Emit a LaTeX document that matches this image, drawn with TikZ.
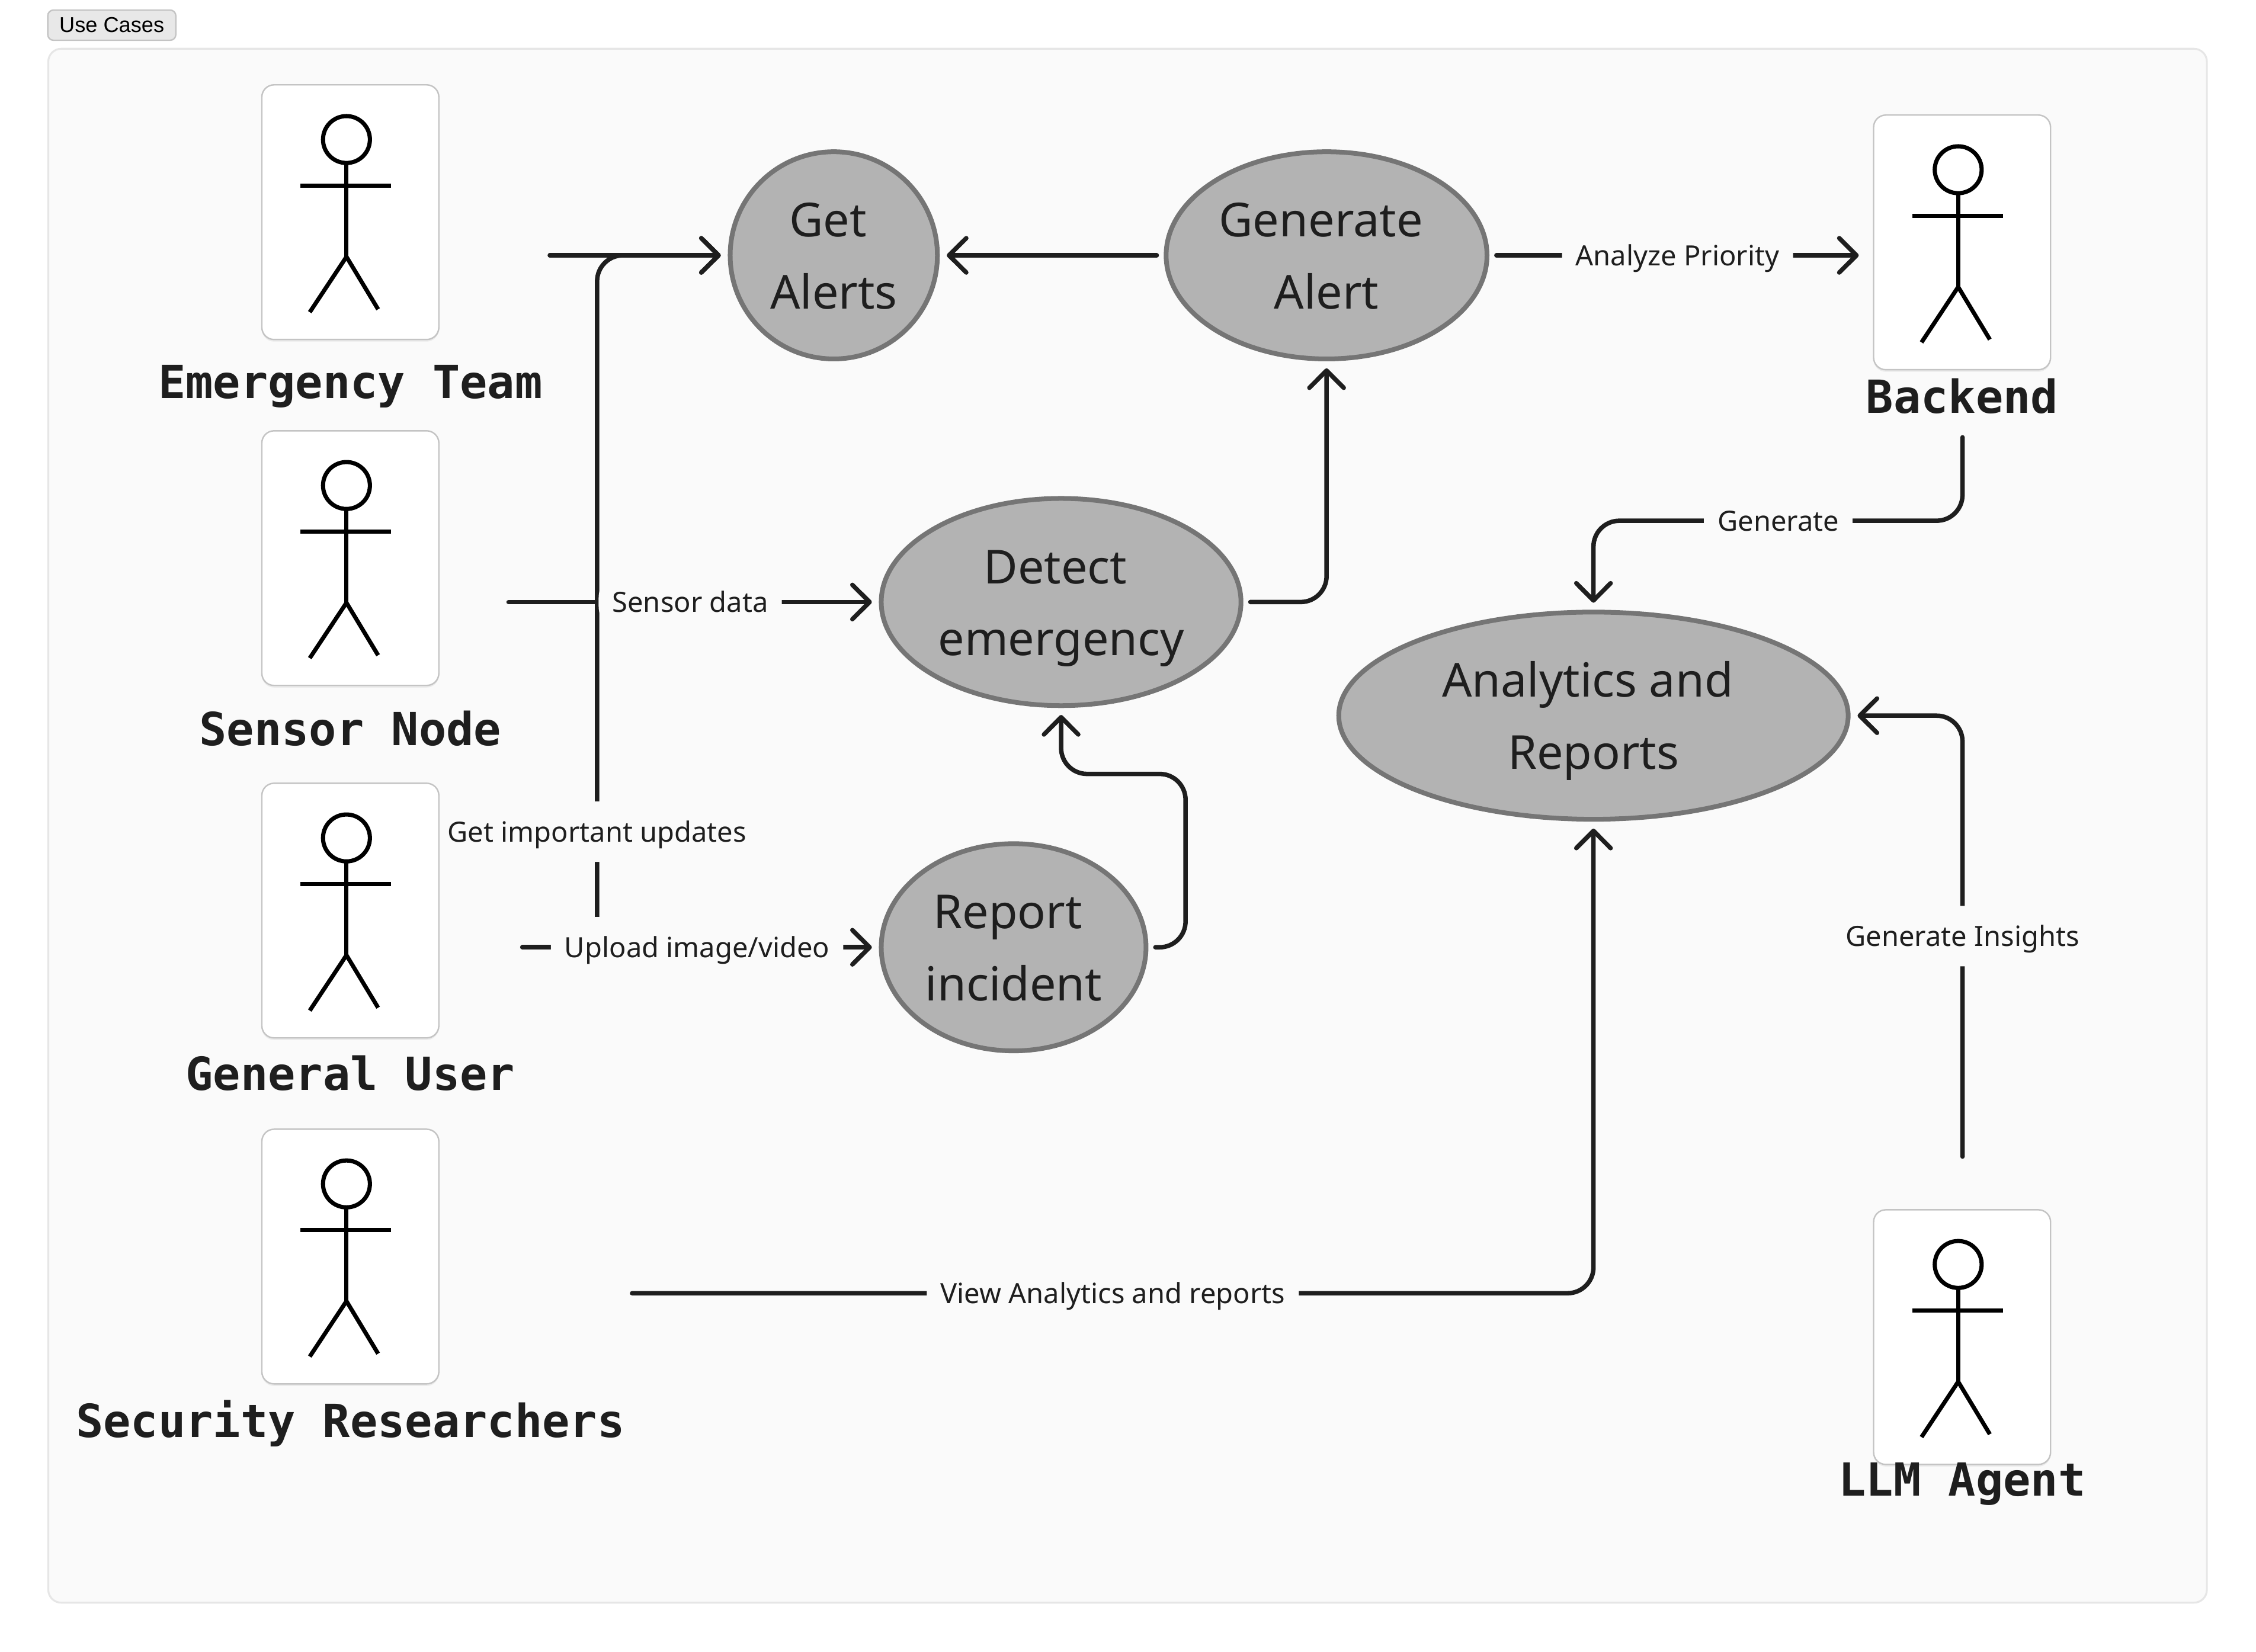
\documentclass[tikz,border=0pt]{standalone}
\usepackage{fontspec}
\setmainfont{Noto Sans}
\newfontfamily\actorfont{DejaVu Sans Mono}
\newfontfamily\tagfont{Liberation Sans}
\usepackage{tikz}
\usetikzlibrary{shapes.geometric, arrows.meta, fit, shadows}

\definecolor{ink}{HTML}{1E1E1E}
\definecolor{panelfill}{HTML}{FAFAFA}
\definecolor{panelline}{HTML}{E6E6E6}
\definecolor{cardline}{HTML}{C4C4C4}
\definecolor{casefill}{HTML}{B3B3B3}
\definecolor{caseline}{HTML}{757575}
\definecolor{tagfill}{HTML}{E8E8E8}

\newcommand{\du}{0.6913pt}
\newcommand{\brk}{\kern 5.5pt\\}

\newcommand{\actor}[5]{
  \node[actorcard] (#1card) at (#2,#3) {};
  \draw[stick, shift={(#2,#3)}] (-2.7,-50.5) circle[radius=16.3];
  \draw[stick, shift={(#2,#3)}] (-2.7,-34.2) -- (-2.7,31);
  \draw[stick, shift={(#2,#3)}] (-34.7,-18.5) -- (28.3,-18.5);
  \draw[stick, shift={(#2,#3)}] (-28.2,69.5) -- (-2.7,31) -- (19.3,67.5);
  \node[actorname] (#1name) at (#2,#4) {#5};
  \node[actorgroup, fit=(#1card)(#1name)] (#1) {};
}

\begin{document}
\begin{tikzpicture}[x=0.024286cm, y=-0.024286cm]
      \tikzstyle{panel} = [
        rectangle,
        draw=panelline,
        fill=panelfill,
        line width=1.3*\du,
        rounded corners=9*\du,
        minimum width=1500*\du,
        minimum height=1080*\du
      ]

      \tikzstyle{tag} = [
        rectangle,
        draw=cardline,
        fill=tagfill,
        line width=\du,
        rounded corners=4*\du,
        minimum width=89*\du,
        minimum height=21*\du,
        inner sep=0pt,
        text=black,
        font=\tagfont\fontsize{10.3}{12}\selectfont
      ]

      \tikzstyle{actorcard} = [
        rectangle,
        draw=cardline,
        fill=white,
        line width=\du,
        rounded corners=8.5*\du,
        minimum width=123*\du,
        minimum height=177*\du,
        drop shadow={shadow xshift=0pt, shadow yshift=-1pt, opacity=.12}
      ]

      \tikzstyle{stick} = [
        draw=black,
        line width=2.9*\du
      ]

      \tikzstyle{actorname} = [
        anchor=base,
        inner sep=0pt,
        text=ink,
        font=\actorfont\bfseries\fontsize{21.9}{26}\selectfont
      ]

      \tikzstyle{actorgroup} = [
        inner sep=0pt,
        outer sep=3.3pt
      ]

      \tikzstyle{usecase} = [
        ellipse,
        draw=caseline,
        fill=casefill,
        line width=3.3*\du,
        minimum height=144*\du,
        inner sep=0pt,
        outer sep=4.5pt,
        align=center,
        text height=54pt,
        text depth=2.8pt,
        text=ink,
        font=\fontsize{22.5}{34.5}\selectfont
      ]

      \tikzstyle{flow} = [
        draw=ink,
        line width=3.1*\du,
        line cap=round,
        rounded corners=18*\du,
        >={Straight Barb[length=8.3pt, width=16.5pt, round]}
      ]

      \tikzstyle{flowlabel} = [
        fill=panelfill,
        inner xsep=9.5*\du,
        inner ysep=0pt,
        minimum height=42*\du,
        text height=11pt,
        text depth=1.3pt,
        text=ink,
        font=\fontsize{13.4}{17}\selectfont
      ]

      \useasboundingbox (0,0) rectangle (1568,1148);

      \node[tag] (usecases) at (77.7,17.5) {Use Cases};
      \node[panel] (board) at (783.7,574) {};

      \actor{emergency}{243.5}{147.5}{277}{Emergency Team}
      \actor{sensor}{243.5}{388}{518}{Sensor Node}
      \actor{general}{243.5}{633}{758}{General User}
      \actor{security}{243.5}{873.5}{999}{Security Researchers}
      \actor{backend}{1363.7}{168.5}{287}{Backend}
      \actor{llm}{1363.7}{929.5}{1040}{LLM Agent}

      \node[usecase, minimum width=144*\du] (getalerts) at (579.5,177.5) {Get\brk Alerts};
      \node[usecase, minimum width=223*\du] (generatealert) at (922,177.5) {Generate\brk Alert};
      \node[usecase, minimum width=250*\du] (detect) at (737.5,418.5) {Detect\brk emergency};
      \node[usecase, minimum width=184*\du] (report) at (704.5,658.5) {Report\brk incident};
      \node[usecase, minimum width=354*\du] (analytics) at (1107.5,497.5) {Analytics and\brk Reports};

      \coordinate (updatestart) at (415,638);
      \coordinate (reportbend) at (824,538);
      \coordinate (generatebend) at (1236,362);
      \coordinate (backendout) at (1364,304);
      \coordinate (llmtop) at (1364,804);

      \draw[flow, ->] (emergency.east |- getalerts.west) -- (getalerts.west);
      \draw[flow, ->] (updatestart) |- (getalerts.west)
      node[flowlabel, inner xsep=2*\du, pos=.065] (updates) {Get important updates};
      \draw[flow, ->] (sensor.east |- detect.west) -- (detect.west)
      node[flowlabel, midway] (sensordata) {Sensor data};
      \draw[flow, ->] (general.east |- report.west) -- (report.west)
      node[flowlabel, midway] (upload) {Upload image/video};
      \draw[flow, ->] (generatealert.west) -- (getalerts.east);
      \draw[flow, ->] (generatealert.east) -- (backend.west |- generatealert.east)
      node[flowlabel, midway] (priority) {Analyze Priority};
      \draw[flow, ->] (detect.east) -| (generatealert.south);
      \draw[flow, ->] (report.east) -| (reportbend) -| (detect.south);
      \draw[flow, ->] (backendout) |- (generatebend) -| (analytics.north);
      \node[flowlabel] (generate) at (generatebend) {Generate};
      \draw[flow, ->] (llmtop) |- (analytics.east)
      node[flowlabel, pos=.25] (insights) {Generate Insights};
      \draw[flow, ->] (security.east |- 0,899) -| (analytics.south)
      node[flowlabel, pos=.25] (viewreports) {View Analytics and reports};
    \end{tikzpicture}
\end{document}
